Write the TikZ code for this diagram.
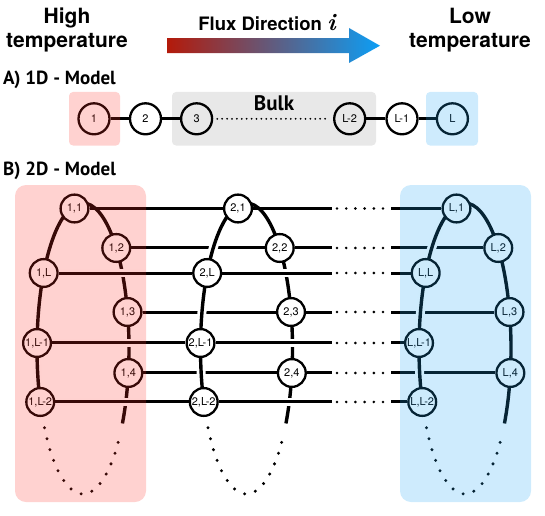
\documentclass[tikz,border=0pt]{standalone}
\usepackage{fontspec}
\setmainfont{TeX Gyre Heros}
\newfontfamily\ptsans{PT Sans}
\newfontfamily\lmr{Latin Modern Roman}
\usetikzlibrary{calc}
\pgfdeclarelayer{bg}
\pgfsetlayers{bg,main}
\definecolor{ovred}{RGB}{255,50,40}
\definecolor{ovblue}{RGB}{30,165,245}
\definecolor{arL}{RGB}{180,26,10}
\definecolor{arM}{RGB}{108,78,112}
\definecolor{arR}{RGB}{12,158,245}
\begin{document}
\begin{tikzpicture}[x=1pt,y=1pt,
  nd/.style={circle,draw=black,fill=white,line width=2.3pt,minimum size=27.8pt,inner sep=0pt,font=\fontsize{11}{11}\selectfont},
  nda/.style={nd,minimum size=31pt},
  ln/.style={line width=3pt},
  cased/.style={draw=white,line width=2.6pt,double=black,double distance=3pt},
  arcline/.style={line width=3.4pt},
  frontcase/.style={white,line width=9pt},
  dotarc/.style={line width=3.3pt,line cap=round,dash pattern=on 0pt off 11.3pt},
  dotrow/.style={line width=2.9pt,line cap=round,dash pattern=on 0pt off 9.2pt},
  dotbulk/.style={line width=2pt,line cap=round,dash pattern=on 0pt off 4.9pt},
  head/.style={font=\fontsize{21}{21}\selectfont\bfseries,inner sep=0pt},
  ttl/.style={font=\fontsize{19}{19}\selectfont\ptsans\bfseries,anchor=west,inner sep=0pt}
]
\useasboundingbox (0,0) rectangle (545,515);

% ---------- header ----------
\node[head,anchor=base] (hi1) at (67,491) {High};
\node[head,anchor=base] (hi2) at (67,467) {temperature};
\node[head,anchor=base] (lo1) at (470,491) {Low};
\node[head,anchor=base] (lo2) at (470,467) {temperature};
\node[head,font=\fontsize{18.5}{18.5}\selectfont\bfseries,anchor=base] (flux) at (267,484) {Flux Direction {\lmr\itshape\fontsize{24}{24}\selectfont i}};
\shade[left color=arL,middle color=arM,right color=arR]
  (167,461.8) -- (349,461.8) -- (349,452) -- (380,469.3) -- (349,487) -- (349,476.8) -- (167,476.8) -- cycle;

% ---------- 1D model ----------
\node[ttl] (tA) at (3,435.4) {A) 1D - Model};
\node[nda] (o1) at (94,396.2) {1};
\node[nda] (o2) at (145.5,396.2) {2};
\node[nda] (o3) at (196.6,396.2) {3};
\node[nda] (oL2) at (349.7,396.2) {L-2};
\node[nda] (oL1) at (402,396.2) {L-1};
\node[nda] (oL) at (452.4,396.2) {L};
\draw[ln] (o1)--(o2) (o2)--(o3) (oL2)--(oL1) (oL1)--(oL);
\draw[dotbulk,shorten <=4pt,shorten >=4pt] (o3)--(oL2);
\fill[ovred,fill opacity=0.22,rounded corners=4pt] (69,369.5) rectangle (120,423);
\fill[black,fill opacity=0.09,rounded corners=4pt] (172,369.5) rectangle (376,423);
\fill[ovblue,fill opacity=0.22,rounded corners=4pt] (426,369.5) rectangle (478,423);
\node[font=\fontsize{21}{21}\selectfont\ptsans\bfseries,anchor=base,inner sep=0pt] (bulk) at (274,404) {Bulk};

% ---------- 2D model ----------
\node[ttl] (tB) at (3,344.5) {B) 2D - Model};
\foreach \c/\cx in {1/83,2/246.5,L/465}{
  \coordinate (c\c) at (\cx,166.5);
}
\foreach \c/\cx in {1/83,2/246.5,L/465}{
  \node[nd] (n\c-1) at (\cx-8.5,306.5) {\c,1};
  \path (c\c) ++(43.7:46 and 145.5) node[nd] (n\c-2) {\c,2};
  \path (c\c) ++(148.74:46 and 145.5) node[nd] (n\c-L) {\c,L};
  \path (c\c) ++(14.53:46 and 145.5) node[nd] (n\c-3) {\c,3};
  \path (c\c) ++(177.83:46 and 145.5) node[nd] (n\c-La) {\c,L-1};
  \path (c\c) ++(-9.69:46 and 145.5) node[nd] (n\c-4) {\c,4};
  \path (c\c) ++(201.57:46 and 145.5) node[nd] (n\c-Lb) {\c,L-2};
}
\coordinate (xpA) at (332,0);
\coordinate (xqA) at (337,0);
\coordinate (xqB) at (383,0);
\coordinate (xpB) at (391,0);
\foreach \r in {1,2,L,3,La,4,Lb}{
  \coordinate (pA-\r) at (n2-\r -| xpA);
  \coordinate (qA-\r) at (n2-\r -| xqA);
  \coordinate (qB-\r) at (n2-\r -| xqB);
  \coordinate (pB-\r) at (n2-\r -| xpB);
}
\begin{pgfonlayer}{bg}
  \foreach \c in {1,2,L}{
    \draw[arcline] (c\c) ++(-31:46 and 145.5) arc[start angle=-31,end angle=101,x radius=46,y radius=145.5];
    \draw[dotarc] (c\c) ++(213:46 and 145.5) arc[start angle=213,end angle=325,x radius=46,y radius=145.5];
  }
  \foreach \r in {L,La,Lb}{
    \draw[cased] (n1-\r) -- (n2-\r);
    \draw[cased] (n2-\r) -- (pA-\r);
  }
  \foreach \r in {1,2,3,4}{
    \draw[ln] (n1-\r) -- (n2-\r);
    \draw[ln] (n2-\r) -- (pA-\r);
  }
  \foreach \r in {1,2,L,3,La,4,Lb}{
    \draw[dotrow] (qA-\r) -- (qB-\r);
    \draw[ln] (pB-\r) -- (nL-\r);
  }
  \foreach \c in {1,2,L}{
    \draw[frontcase] (c\c) ++(101:46 and 145.5) arc[start angle=101,end angle=206,x radius=46,y radius=145.5];
    \draw[arcline] (c\c) ++(101:46 and 145.5) arc[start angle=101,end angle=206,x radius=46,y radius=145.5];
  }
\end{pgfonlayer}
\fill[ovred,fill opacity=0.22,rounded corners=11pt] (15,13) rectangle (146,330);
\fill[ovblue,fill opacity=0.22,rounded corners=11pt] (400,13) rectangle (531,330);
\end{tikzpicture}
\end{document}
